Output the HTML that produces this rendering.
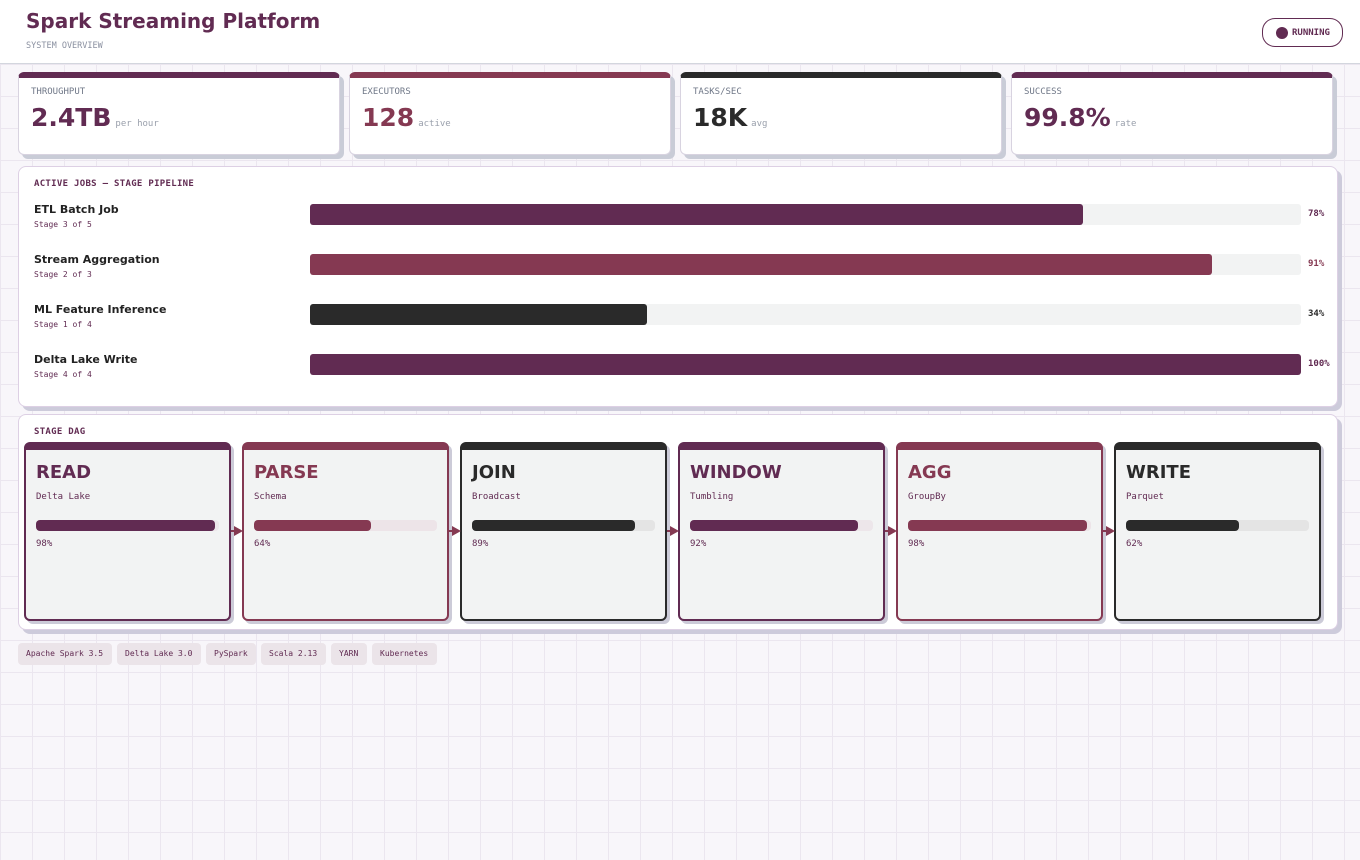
<!DOCTYPE html><html><head><style>
*{margin:0;padding:0;box-sizing:border-box}
body{width:1360px;height:860px;overflow:hidden;position:relative;background-color:#f8f6fa;background-image:linear-gradient(#ebe6ef 1px,transparent 1px),linear-gradient(90deg,#ebe6ef 1px,transparent 1px);background-size:32px 32px;font-family:"Liberation Sans","DejaVu Sans",sans-serif}
.m{font-family:"DejaVu Sans Mono","Liberation Mono",monospace}
.a{position:absolute}
.hdr{left:0;top:0;width:1360px;height:64px;background:#fff;border-bottom:1px solid #d3d6de}
.card{position:absolute;top:72px;width:322px;height:83px;background:#fff;border:1px solid #d8d3e0;border-top:6px solid;border-radius:6px;box-shadow:4px 4px 0 #c9ccd7}
.card .l{position:absolute;left:12px;top:9px;font-size:9px;color:#707888}
.card .v{position:absolute;left:12px;top:25px;font-size:25px;font-weight:bold;font-family:"DejaVu Sans",sans-serif}
.card .v span{font-size:9px;font-weight:normal;color:#9aa0ac;font-family:"DejaVu Sans Mono",monospace;margin-left:4px}
.panel{position:absolute;left:18px;width:1320px;background:#fff;border:1px solid #ddd0e4;border-radius:8px;box-shadow:4px 4px 0 #cdcbdb}
.ptitle{position:absolute;left:15px;font-size:9px;font-weight:bold;color:#612b52;letter-spacing:.3px}
.jn{position:absolute;left:34px;font-size:11px;font-weight:bold;color:#222;font-family:"DejaVu Sans",sans-serif}
.js{position:absolute;left:34px;font-size:8px;color:#612b52}
.tr{position:absolute;left:310px;width:991px;height:21px;background:#f2f3f3;border-radius:3px}
.tr div{height:100%;border-radius:3px}
.pc{position:absolute;left:1308px;font-size:9px;font-weight:bold}
.node{position:absolute;top:442px;width:207px;height:179px;background:#f2f3f3;border:2px solid;border-top-width:8px;border-radius:6px;box-shadow:3px 3px 0 #cccbd8}
.node .t{position:absolute;left:10px;top:12px;font-size:18px;font-weight:bold;font-family:"DejaVu Sans",sans-serif}
.node .s{position:absolute;left:10px;top:42px;font-size:9px;color:#612b52}
.node .b{position:absolute;left:10px;top:70px;width:183px;height:11px;border-radius:4px}
.node .b div{height:100%;border-radius:4px}
.node .p{position:absolute;left:10px;top:89px;font-size:9px;color:#612b52}
.tag{position:absolute;top:643px;height:22px;background:#ebe4e9;border-radius:4px;font-size:8px;color:#612b52;line-height:22px;padding:0 8px;white-space:nowrap}
</style></head><body>
<div class="a hdr"></div>
<div class="a" style="left:26px;top:9px;font-size:20px;font-weight:bold;color:#612b52;font-family:'DejaVu Sans',sans-serif">Spark Streaming Platform</div>
<div class="a m" style="left:26px;top:41px;font-size:8.5px;color:#8a90a0">SYSTEM OVERVIEW</div>
<div class="a m" style="left:1262px;top:18px;width:81px;height:29px;border:1px solid #612b52;border-radius:13px;font-size:9px;font-weight:bold;color:#612b52;line-height:29px;padding-left:29px">RUNNING</div>
<div class="a" style="left:1276px;top:27px;width:12px;height:12px;border-radius:50%;background:#612b52"></div>

<div class="card m" style="left:18px;border-top-color:#612b52"><div class="l">THROUGHPUT</div><div class="v" style="color:#612b52">2.4TB<span>per hour</span></div></div>
<div class="card m" style="left:349px;border-top-color:#853952"><div class="l">EXECUTORS</div><div class="v" style="color:#853952">128<span>active</span></div></div>
<div class="card m" style="left:680px;border-top-color:#2a2a2a"><div class="l">TASKS/SEC</div><div class="v" style="color:#2a2a2a">18K<span>avg</span></div></div>
<div class="card m" style="left:1011px;border-top-color:#612b52"><div class="l">SUCCESS</div><div class="v" style="color:#612b52">99.8%<span>rate</span></div></div>

<div class="panel" style="top:166px;height:241px"></div>
<div class="ptitle m" style="left:34px;top:179px">ACTIVE JOBS — STAGE PIPELINE</div>
<div class="jn" style="top:203px">ETL Batch Job</div><div class="js m" style="top:220px">Stage 3 of 5</div>
<div class="tr" style="top:204px"><div style="width:78%;background:#612b52"></div></div><div class="pc m" style="top:209px;color:#612b52">78%</div>
<div class="jn" style="top:253px">Stream Aggregation</div><div class="js m" style="top:270px">Stage 2 of 3</div>
<div class="tr" style="top:254px"><div style="width:91%;background:#853952"></div></div><div class="pc m" style="top:259px;color:#853952">91%</div>
<div class="jn" style="top:303px">ML Feature Inference</div><div class="js m" style="top:320px">Stage 1 of 4</div>
<div class="tr" style="top:304px"><div style="width:34%;background:#2a2a2a"></div></div><div class="pc m" style="top:309px;color:#2a2a2a">34%</div>
<div class="jn" style="top:353px">Delta Lake Write</div><div class="js m" style="top:370px">Stage 4 of 4</div>
<div class="tr" style="top:354px"><div style="width:100%;background:#612b52"></div></div><div class="pc m" style="top:359px;color:#612b52">100%</div>

<div class="panel" style="top:414px;height:216px"></div>
<div class="ptitle m" style="left:34px;top:427px">STAGE DAG</div>

<div class="node m" style="left:24px;border-color:#612b52"><div class="t" style="color:#612b52">READ</div><div class="s">Delta Lake</div><div class="b" style="background:#ede6ea"><div style="width:98%;background:#612b52"></div></div><div class="p">98%</div></div>
<div class="node m" style="left:242px;border-color:#853952"><div class="t" style="color:#853952">PARSE</div><div class="s">Schema</div><div class="b" style="background:#ede4e8"><div style="width:64%;background:#853952"></div></div><div class="p">64%</div></div>
<div class="node m" style="left:460px;border-color:#2a2a2a"><div class="t" style="color:#2a2a2a">JOIN</div><div class="s">Broadcast</div><div class="b" style="background:#e4e4e4"><div style="width:89%;background:#2a2a2a"></div></div><div class="p">89%</div></div>
<div class="node m" style="left:678px;border-color:#612b52"><div class="t" style="color:#612b52">WINDOW</div><div class="s">Tumbling</div><div class="b" style="background:#ede6ea"><div style="width:92%;background:#612b52"></div></div><div class="p">92%</div></div>
<div class="node m" style="left:896px;border-color:#853952"><div class="t" style="color:#853952">AGG</div><div class="s">GroupBy</div><div class="b" style="background:#ede4e8"><div style="width:98%;background:#853952"></div></div><div class="p">98%</div></div>
<div class="node m" style="left:1114px;border-color:#2a2a2a"><div class="t" style="color:#2a2a2a">WRITE</div><div class="s">Parquet</div><div class="b" style="background:#e4e4e4"><div style="width:62%;background:#2a2a2a"></div></div><div class="p">62%</div></div>

<svg class="a" style="left:0;top:0" width="1360" height="860">
<g fill="#853952" stroke="#853952">
<line x1="231" y1="531" x2="236" y2="531" stroke-width="2"/><polygon points="234,526 243,531 234,536" stroke="none"/>
<line x1="449" y1="531" x2="454" y2="531" stroke-width="2"/><polygon points="452,526 461,531 452,536" stroke="none"/>
<line x1="667" y1="531" x2="672" y2="531" stroke-width="2"/><polygon points="670,526 679,531 670,536" stroke="none"/>
<line x1="885" y1="531" x2="890" y2="531" stroke-width="2"/><polygon points="888,526 897,531 888,536" stroke="none"/>
<line x1="1103" y1="531" x2="1108" y2="531" stroke-width="2"/><polygon points="1106,526 1115,531 1106,536" stroke="none"/>
</g></svg>

<div class="tag m" style="left:18px;width:94px">Apache Spark 3.5</div>
<div class="tag m" style="left:117px;width:84px">Delta Lake 3.0</div>
<div class="tag m" style="left:206px;width:50px">PySpark</div>
<div class="tag m" style="left:261px;width:65px">Scala 2.13</div>
<div class="tag m" style="left:331px;width:36px">YARN</div>
<div class="tag m" style="left:372px;width:65px">Kubernetes</div>
</body></html>
